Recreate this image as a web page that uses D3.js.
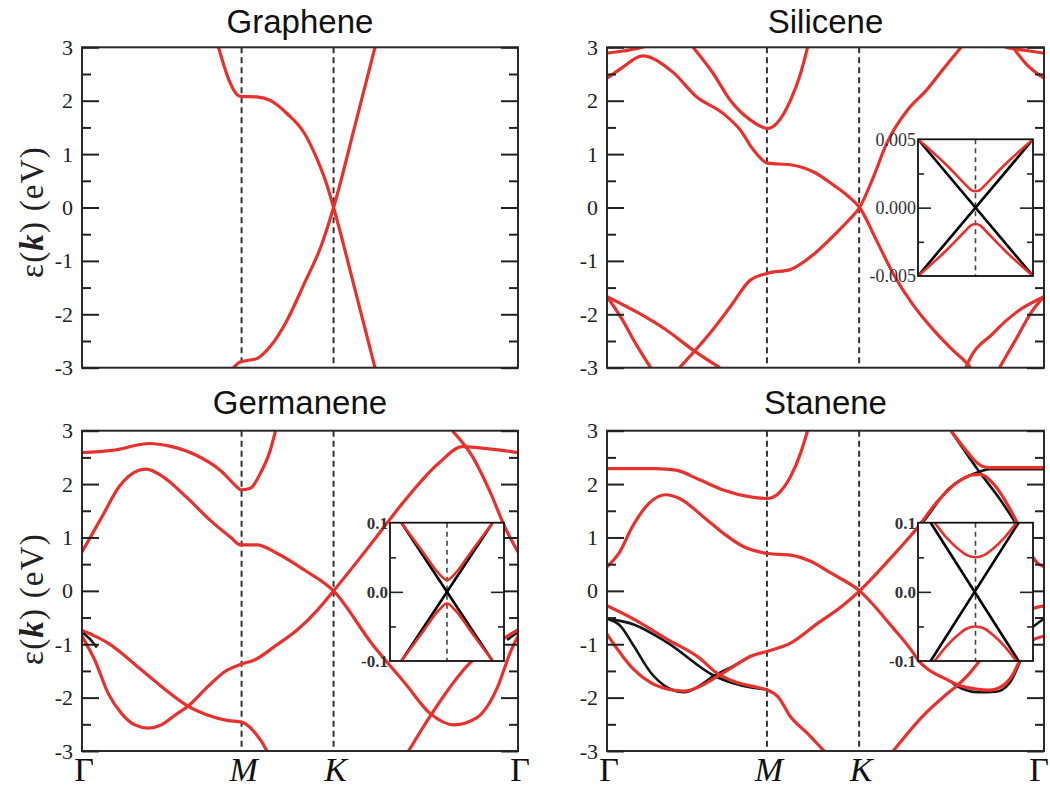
<!DOCTYPE html>
<html lang="en">
<head>
<meta charset="UTF-8">
<title>Band structures of 2D group-IV materials</title>
<script src="https://cdn.jsdelivr.net/npm/d3@7"></script>
<style>
  body { margin: 0; background: #fff; }
  svg { display: block; }
</style>
</head>
<body>
<div id="chart"></div>
<script>
// k-path (fraction of Γ-M-K-Γ length), energy ticks, titles
const kTickPos = [0, 0.366, 0.577, 1];
const kTickLabels = ["Γ", "M", "K", "Γ"];
const energyTicks = [-3, -2, -1, 0, 1, 2, 3];
const energyMinor = [-2.5, -1.5, -0.5, 0.5, 1.5, 2.5];
const titles = ["Graphene", "Silicene", "Germanene", "Stanene"];

// bands: [k, energy in eV]
// graphene
const grA = [[0.313,3.0],[0.340,2.33],[0.355,2.12],[0.364,2.08],[0.401,2.07],[0.433,2.0],[0.470,1.76],[0.510,1.39],[0.540,0.89],[0.563,0.39],[0.577,0],[0.625,-1.5],[0.672,-3.0]];
const grB = [[0.347,-3.0],[0.364,-2.89],[0.401,-2.83],[0.432,-2.6],[0.471,-2.1],[0.510,-1.42],[0.548,-0.73],[0.577,0],[0.625,1.5],[0.672,3.0]];

// silicene
const siA = [[0,2.42],[0.035,2.62],[0.081,2.84],[0.150,2.54],[0.204,2.08],[0.266,1.76],[0.305,1.45],[0.335,1.08],[0.368,0.83],[0.420,0.80],[0.474,0.66],[0.520,0.41],[0.552,0.21],[0.578,0],[0.617,-0.62],[0.655,-1.24],[0.700,-1.82],[0.750,-2.32],[0.795,-2.70],[0.825,-2.93],[0.840,-3.1]];
const siB = [[0.166,-3.0],[0.235,-2.36],[0.282,-1.86],[0.328,-1.36],[0.368,-1.23],[0.420,-1.16],[0.474,-0.87],[0.528,-0.45],[0.555,-0.22],[0.578,0],[0.610,0.58],[0.640,1.2],[0.690,1.85],[0.729,2.18],[0.770,2.6],[0.810,3.0]];
const siM = [[0.197,3.0],[0.243,2.51],[0.282,2.01],[0.328,1.64],[0.368,1.48],[0.389,1.58],[0.420,2.01],[0.443,2.51],[0.459,3.0]];
const siTopL = [[0,2.89],[0.035,2.93],[0.081,3.0],[0.1,3.06]];
const siTopR1 = [[0.900,3.06],[0.914,3.0],[0.960,2.94],[1.0,2.89]];
const siTopR2 = [[0.929,3.0],[0.960,2.68],[1.0,2.42]];
const siSigL1 = [[0,-1.67],[0.035,-2.1],[0.065,-2.54],[0.1,-3.0]];
const siSigL2 = [[0,-1.67],[0.073,-1.98],[0.135,-2.29],[0.197,-2.67],[0.258,-3.0]];
const siSigR1 = [[0.817,-3.1],[0.825,-2.93],[0.883,-2.36],[0.944,-1.92],[1.0,-1.67]];
const siSigR2 = [[0.898,-3.0],[0.937,-2.45],[0.972,-1.95],[1.0,-1.67]];

// germanene
const geTop = [[0,2.59],[0.069,2.63],[0.155,2.76],[0.201,2.71],[0.262,2.54],[0.317,2.26],[0.355,1.95],[0.364,1.89],[0.386,1.92],[0.409,2.2],[0.432,2.64],[0.444,3.0]];
const geA = [[0,0.73],[0.046,1.39],[0.085,1.95],[0.131,2.26],[0.147,2.28],[0.185,2.14],[0.239,1.76],[0.293,1.33],[0.340,1.01],[0.364,0.86],[0.401,0.86],[0.448,0.70],[0.510,0.39],[0.577,0],[0.664,-0.98],[0.741,-1.73],[0.799,-2.30],[0.853,-2.51],[0.905,-2.38],[0.950,-1.86],[0.985,-1.10],[1.0,-0.85]];
const geB = [[0,-0.85],[0.029,-1.29],[0.060,-1.92],[0.090,-2.29],[0.121,-2.51],[0.152,-2.57],[0.182,-2.51],[0.213,-2.33],[0.243,-2.16],[0.289,-1.79],[0.328,-1.51],[0.366,-1.37],[0.397,-1.29],[0.442,-1.04],[0.494,-0.73],[0.540,-0.36],[0.577,0],[0.664,0.89],[0.741,1.70],[0.818,2.39],[0.873,2.70],[0.934,2.66],[1.0,2.59]];
const geC = [[0,-0.74],[0.060,-0.98],[0.136,-1.48],[0.197,-1.89],[0.243,-2.16],[0.289,-2.33],[0.335,-2.43],[0.366,-2.46],[0.397,-2.66],[0.423,-2.98],[0.430,-3.1]];
const geSteepR = [[0.849,3.0],[0.896,2.51],[0.934,1.89],[0.973,1.14],[1.0,0.73]];
const geRiseR = [[0.749,-3.0],[0.799,-2.34],[0.890,-1.35],[0.950,-0.98],[1.0,-0.73]];
const geBlk1 = [[0,-0.78],[0.015,-0.79],[0.032,-0.86]];
const geBlk2 = [[0,-0.78],[0.018,-0.90],[0.034,-1.06]];
const geBlk3 = [[0.975,-0.92],[0.988,-0.84],[1.0,-0.78]];

// stanene
const snTop = [[0,2.29],[0.112,2.29],[0.158,2.26],[0.212,2.08],[0.266,1.89],[0.328,1.76],[0.368,1.73],[0.389,1.80],[0.420,2.14],[0.443,2.58],[0.459,3.0]];
const snA = [[0,0.45],[0.027,0.70],[0.058,1.20],[0.096,1.64],[0.135,1.80],[0.166,1.73],[0.220,1.39],[0.266,1.08],[0.312,0.83],[0.368,0.70],[0.420,0.67],[0.467,0.55],[0.513,0.33],[0.578,0],[0.652,-0.67],[0.698,-1.13],[0.712,-1.30],[0.736,-1.48],[0.775,-1.65],[0.802,-1.76],[0.845,-1.84],[0.875,-1.86],[0.905,-1.78],[0.930,-1.55],[0.945,-1.30],[0.975,-0.92],[1.0,-0.85]];
const snB = [[0,-0.81],[0.061,-1.47],[0.100,-1.72],[0.138,-1.84],[0.176,-1.88],[0.215,-1.78],[0.245,-1.64],[0.291,-1.41],[0.330,-1.22],[0.368,-1.13],[0.420,-0.98],[0.482,-0.61],[0.536,-0.30],[0.578,0],[0.652,0.64],[0.706,1.14],[0.759,1.70],[0.798,2.01],[0.836,2.17],[0.856,2.18],[0.875,2.08],[0.898,1.86],[0.921,1.55],[0.937,1.30],[0.960,0.85],[0.985,0.52],[1.0,0.45]];
const snC = [[0,-0.28],[0.061,-0.53],[0.138,-0.91],[0.215,-1.28],[0.245,-1.50],[0.291,-1.70],[0.345,-1.81],[0.368,-1.86],[0.391,-1.98],[0.420,-2.36],[0.459,-2.67],[0.497,-3.0],[0.510,-3.1]];
const snD = [[0.655,-3.0],[0.721,-2.36],[0.775,-1.95],[0.802,-1.77],[0.829,-1.55],[0.848,-1.36],[0.900,-0.85],[0.940,-0.50],[0.975,-0.33],[1.0,-0.28]];
const snE = [[0.787,3.0],[0.821,2.64],[0.844,2.42],[0.860,2.33],[0.875,2.31],[1.0,2.31]];
const snBlk1 = [[0,-0.52],[0.061,-0.63],[0.138,-0.97],[0.245,-1.59],[0.330,-1.81],[0.368,-1.85]];
const snBlk2 = [[0,-0.52],[0.031,-0.66],[0.061,-1.03],[0.100,-1.53],[0.138,-1.81],[0.176,-1.90],[0.215,-1.76],[0.245,-1.59],[0.291,-1.40],[0.330,-1.22]];
const snBlk3 = [[0.700,1.08],[0.717,1.23],[0.783,1.92],[0.852,2.23],[0.875,2.28],[0.920,2.28],[1.0,2.28]];
const snBlk4 = [[0.787,3.0],[0.852,2.23],[0.898,1.73],[0.933,1.30]];
const snBlk5 = [[0.790,-1.72],[0.802,-1.79],[0.850,-1.90],[0.890,-1.89],[0.920,-1.74],[0.945,-1.33]];
const snBlk6 = [[0.975,-0.67],[0.990,-0.58],[1.0,-0.52]];

// insets around K: [k offset, energy in eV]
const siInsetTicks = [-0.005, 0, 0.005];
const siInsetLabels = ["-0.005", "0.000", "0.005"];
const siInsetBlack = [[[-1,0.005],[1,-0.005]], [[-1,-0.005],[1,0.005]]];
const siInsetRed = [
  [[-1,0.005],[-0.5,0.0031],[-0.2,0.0018],[-0.08,0.0013],[0,0.0012],[0.08,0.0013],[0.2,0.0018],[0.5,0.0031],[1,0.005]],
  [[-1,-0.005],[-0.5,-0.0031],[-0.2,-0.0018],[-0.08,-0.0013],[0,-0.0012],[0.08,-0.0013],[0.2,-0.0018],[0.5,-0.0031],[1,-0.005]]
];
const geInsetTicks = [-0.1, 0, 0.1];
const geInsetLabels = ["-0.1", "0.0", "0.1"];
const geInsetBlack = [[[-0.8,0.1],[0.8,-0.1]], [[-0.8,-0.1],[0.8,0.1]]];
const geInsetRed = [
  [[-0.8,0.1],[-0.4,0.055],[-0.15,0.027],[0,0.017],[0.15,0.027],[0.4,0.055],[0.8,0.1]],
  [[-0.8,-0.1],[-0.4,-0.055],[-0.15,-0.027],[0,-0.017],[0.15,-0.027],[0.4,-0.055],[0.8,-0.1]]
];
const snInsetBlack = [[[-0.78,0.1],[0.75,-0.1]], [[-0.78,-0.1],[0.75,0.1]]];
const snInsetRed = [
  [[-0.71,0.1],[-0.5,0.078],[-0.3,0.062],[-0.15,0.053],[0,0.05],[0.15,0.053],[0.3,0.062],[0.5,0.078],[0.71,0.1]],
  [[-0.71,-0.1],[-0.5,-0.078],[-0.3,-0.062],[-0.15,-0.053],[0,-0.05],[0.15,-0.053],[0.3,-0.062],[0.5,-0.078],[0.71,-0.1]]
];

// ---- layout ----
const W = 1050, H = 791;
const RED = "#e8312c";
const SERIF = "'Liberation Serif', 'Times New Roman', serif";
const SANS = "'Liberation Sans', Arial, sans-serif";

const colX = [[82, 518], [607, 1044]];
const rowY = [[47.3, 367.7], [430.7, 751]];

const panels = [
  {title: titles[0], col: 0, row: 0, red: [grA, grB], black: [], inset: null},
  {title: titles[1], col: 1, row: 0, red: [siA, siB, siM, siTopL, siTopR1, siTopR2, siSigL1, siSigL2, siSigR1, siSigR2], black: [],
   inset: {box: [918, 139.3, 1033, 276], dom: [-0.005, 0.005], ticks: siInsetTicks, labels: siInsetLabels, bold: false, size: 18, red: siInsetRed, black: siInsetBlack}},
  {title: titles[2], col: 0, row: 1, red: [geTop, geA, geB, geC, geSteepR, geRiseR], black: [geBlk1, geBlk2, geBlk3],
   inset: {box: [390, 522.7, 504, 661], dom: [-0.1, 0.1], ticks: geInsetTicks, labels: geInsetLabels, bold: true, size: 17, red: geInsetRed, black: geInsetBlack}},
  {title: titles[3], col: 1, row: 1, red: [snTop, snA, snB, snC, snD, snE], black: [snBlk1, snBlk2, snBlk3, snBlk4, snBlk5, snBlk6],
   inset: {box: [918, 522.7, 1033, 661], dom: [-0.1, 0.1], ticks: geInsetTicks, labels: geInsetLabels, bold: true, size: 17, red: snInsetRed, black: snInsetBlack}}
];

const svg = d3.select("#chart").append("svg")
  .attr("width", W).attr("height", H)
  .style("background", "#fff");

panels.forEach((p, i) => {
  const [x0, x1] = colX[p.col];
  const [y0, y1] = rowY[p.row];
  const x = d3.scaleLinear().domain([0, 1]).range([x0, x1]);
  const y = d3.scaleLinear().domain([-3, 3]).range([y1, y0]);
  const g = svg.append("g");

  svg.append("clipPath").attr("id", "clip" + i)
    .append("rect").attr("x", x0).attr("y", y0).attr("width", x1 - x0).attr("height", y1 - y0);

  const plot = g.append("g").attr("clip-path", `url(#clip${i})`);

  // dashed verticals at M and K
  plot.selectAll("line.k").data(kTickPos.slice(1, 3)).join("line")
    .attr("class", "k")
    .attr("x1", d => x(d)).attr("x2", d => x(d))
    .attr("y1", y0).attr("y2", y1)
    .attr("stroke", "#333").attr("stroke-width", 2).attr("stroke-dasharray", "6,4");

  const line = d3.line().x(d => x(d[0])).y(d => y(d[1])).curve(d3.curveMonotoneX);

  plot.selectAll("path.blk").data(p.black).join("path")
    .attr("class", "blk").attr("d", line)
    .attr("fill", "none").attr("stroke", "#151515").attr("stroke-width", 2.6);

  plot.selectAll("path.band").data(p.red).join("path")
    .attr("class", "band").attr("d", line)
    .attr("fill", "none").attr("stroke", RED).attr("stroke-width", 3.2)
    .attr("stroke-linejoin", "round");

  // frame
  g.append("rect")
    .attr("x", x0).attr("y", y0).attr("width", x1 - x0).attr("height", y1 - y0)
    .attr("fill", "none").attr("stroke", "#2a2a2a").attr("stroke-width", 2);

  // y axes, ticks pointing inward on both sides
  const styleAxis = sel => {
    sel.select(".domain").remove();
    sel.selectAll("line").attr("stroke", "#222").attr("stroke-width", 2);
    sel.selectAll("text").attr("font-family", SERIF).attr("font-size", 22).attr("fill", "#222");
  };
  g.append("g").attr("transform", `translate(${x0},0)`)
    .call(d3.axisLeft(y).tickValues(energyTicks).tickSizeInner(-17).tickSizeOuter(0).tickPadding(9).tickFormat(d => String(d)))
    .call(styleAxis);
  g.append("g").attr("transform", `translate(${x0},0)`)
    .call(d3.axisLeft(y).tickValues(energyMinor).tickSizeInner(-9).tickSizeOuter(0).tickFormat(""))
    .call(styleAxis);
  g.append("g").attr("transform", `translate(${x1},0)`)
    .call(d3.axisRight(y).tickValues(energyTicks).tickSizeInner(-17).tickSizeOuter(0).tickFormat(""))
    .call(styleAxis);
  g.append("g").attr("transform", `translate(${x1},0)`)
    .call(d3.axisRight(y).tickValues(energyMinor).tickSizeInner(-9).tickSizeOuter(0).tickFormat(""))
    .call(styleAxis);

  // title
  g.append("text")
    .attr("x", (x0 + x1) / 2).attr("y", p.row === 0 ? 33 : 414)
    .attr("text-anchor", "middle")
    .attr("font-family", SANS).attr("font-size", 33).attr("fill", "#111")
    .text(p.title);

  // k-point labels on the bottom row (last one pulled in so it stays on the page)
  if (p.row === 1) {
    g.selectAll("text.klab").data(kTickPos).join("text")
      .attr("class", "klab")
      .attr("x", d => Math.min(x(d) + 2, W - 11)).attr("y", 781)
      .attr("text-anchor", "middle")
      .attr("font-family", SERIF).attr("font-size", 34)
      .attr("font-style", (d, j) => kTickLabels[j] === "Γ" ? "normal" : "italic")
      .attr("fill", "#111")
      .text((d, j) => kTickLabels[j]);
  }

  // energy label on the left column
  if (p.col === 0) {
    const cy = p.row === 0 ? 212 : 599;
    const t = g.append("text")
      .attr("transform", `translate(43,${cy}) rotate(-90)`)
      .attr("text-anchor", "middle")
      .attr("font-family", SERIF).attr("font-size", 33).attr("fill", "#222")
      .attr("letter-spacing", 1.2);
    t.append("tspan").text("ε(");
    t.append("tspan").attr("font-weight", "bold").attr("font-style", "italic").text("k");
    t.append("tspan").text(") (eV)");
  }

  if (p.inset) drawInset(g, p.inset, i);
});

function drawInset(g, ins, i) {
  const [bx0, by0, bx1, by1] = ins.box;
  const xi = d3.scaleLinear().domain([-1, 1]).range([bx0, bx1]);
  const yi = d3.scaleLinear().domain(ins.dom).range([by1, by0]);
  const gi = g.append("g");

  gi.append("rect").attr("x", bx0).attr("y", by0).attr("width", bx1 - bx0).attr("height", by1 - by0)
    .attr("fill", "#fff");

  svg.append("clipPath").attr("id", "iclip" + i)
    .append("rect").attr("x", bx0).attr("y", by0).attr("width", bx1 - bx0).attr("height", by1 - by0);
  const pl = gi.append("g").attr("clip-path", `url(#iclip${i})`);

  pl.append("line")
    .attr("x1", xi(0)).attr("x2", xi(0)).attr("y1", by0).attr("y2", by1)
    .attr("stroke", "#444").attr("stroke-width", 1.6).attr("stroke-dasharray", "5,4");

  const line = d3.line().x(d => xi(d[0])).y(d => yi(d[1])).curve(d3.curveMonotoneX);
  pl.selectAll("path.ib").data(ins.black).join("path")
    .attr("class", "ib").attr("d", line)
    .attr("fill", "none").attr("stroke", "#000").attr("stroke-width", 2.6);
  pl.selectAll("path.ir").data(ins.red).join("path")
    .attr("class", "ir").attr("d", line)
    .attr("fill", "none").attr("stroke", RED).attr("stroke-width", 2.6);

  gi.append("rect").attr("x", bx0).attr("y", by0).attr("width", bx1 - bx0).attr("height", by1 - by0)
    .attr("fill", "none").attr("stroke", "#111").attr("stroke-width", 1.8);

  const minor = [(ins.dom[0]) / 2, (ins.dom[1]) / 2];
  const styleIn = sel => {
    sel.select(".domain").remove();
    sel.selectAll("line").attr("stroke", "#222").attr("stroke-width", 1.6);
    sel.selectAll("text").attr("font-family", SERIF).attr("font-size", ins.size)
      .attr("font-weight", ins.bold ? "bold" : "normal").attr("fill", "#333");
  };
  gi.append("g").attr("transform", `translate(${bx0},0)`)
    .call(d3.axisLeft(yi).tickValues(ins.ticks).tickSizeInner(0).tickSizeOuter(0).tickPadding(2)
      .tickFormat((d, j) => ins.labels[j]))
    .call(styleIn);
  gi.append("g").attr("transform", `translate(${bx0},0)`)
    .call(d3.axisLeft(yi).tickValues([0]).tickSizeInner(-13).tickSizeOuter(0).tickFormat(""))
    .call(styleIn);
  gi.append("g").attr("transform", `translate(${bx0},0)`)
    .call(d3.axisLeft(yi).tickValues(minor).tickSizeInner(-6).tickSizeOuter(0).tickFormat(""))
    .call(styleIn);
  gi.append("g").attr("transform", `translate(${bx1},0)`)
    .call(d3.axisRight(yi).tickValues([0]).tickSizeInner(-13).tickSizeOuter(0).tickFormat(""))
    .call(styleIn);
  gi.append("g").attr("transform", `translate(${bx1},0)`)
    .call(d3.axisRight(yi).tickValues(minor).tickSizeInner(-6).tickSizeOuter(0).tickFormat(""))
    .call(styleIn);
}
</script>
</body>
</html>
